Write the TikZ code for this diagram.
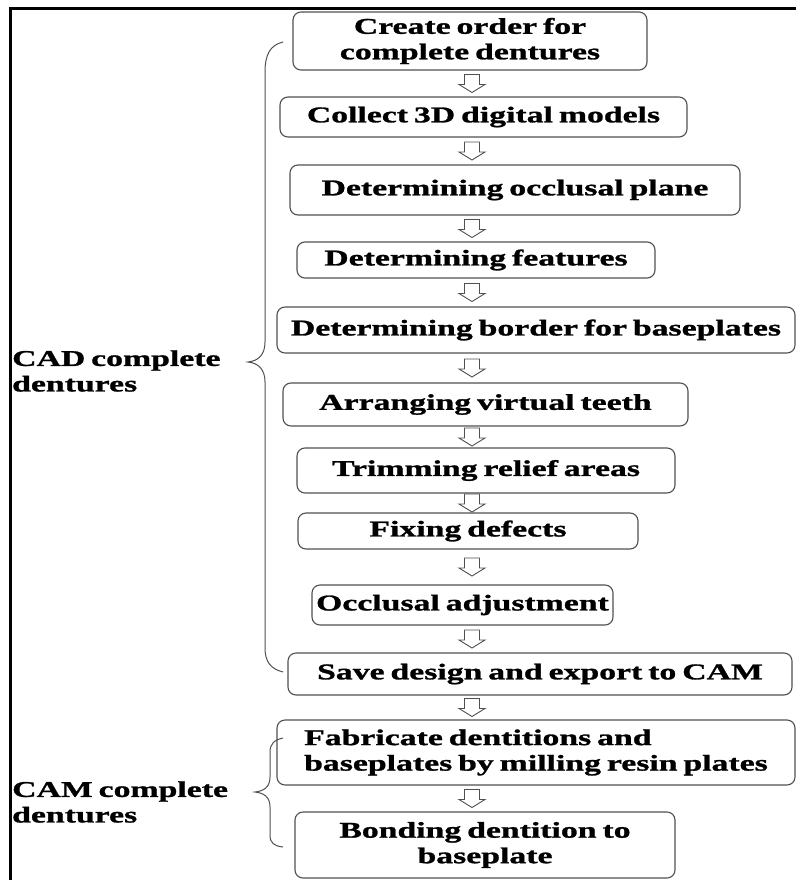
\documentclass[tikz,border=0pt]{standalone}
\usepackage{fontspec}
\setmainfont{Liberation Serif}[FakeStretch=1.5, WordSpace=0.7, FakeBold=1.2]
\usetikzlibrary{calc}
\definecolor{boxgray}{RGB}{80,80,80}
\newcommand\fs{\fontsize{22.5}{25.5}\selectfont\bfseries}
\tikzset{
  stepbox/.style={draw=boxgray, line width=1.1pt, rounded corners=8pt, font=\fs,
    align=center, inner sep=0pt},
  bracepath/.style={draw=boxgray, line width=1pt},
  sidelabel/.style={font=\fs, align=left, inner sep=0pt, anchor=west},
  downarr/.pic={\draw[draw=boxgray, line width=0.9pt, fill=white]
    (-7.5,-9) -- (7.5,-9) -- (7.5,1) -- (13,1) -- (0,9) -- (-13,1) -- (-7.5,1) -- cycle;}
}
\newcommand\flowarr[2]{\path ($(#1.south)!0.5!(#2.north)$) coordinate (m#1);
  \pic at (ax |- m#1) {downarr};}
\begin{document}
\begin{tikzpicture}[x=1pt,y=-1pt]
\useasboundingbox (0,0) rectangle (796,880);
% frame
\draw[line width=3pt] (10.5,880) -- (10.5,8.5) -- (796,8.5);
\coordinate (ax) at (472,0);
% boxes
\node[stepbox, minimum width=354pt, minimum height=58pt] (b1) at (470,41) {Create order for\\complete dentures};
\node[stepbox, minimum width=407pt, minimum height=40pt] (b2) at (483.5,117) {Collect 3D digital models};
\node[stepbox, minimum width=450pt, minimum height=50pt] (b3) at (515,190) {Determining occlusal plane};
\node[stepbox, minimum width=358pt, minimum height=36pt] (b4) at (476,260) {Determining features};
\node[stepbox, minimum width=518pt, minimum height=46pt] (b5) at (536,330) {Determining border for baseplates};
\node[stepbox, minimum width=405pt, minimum height=43pt] (b6) at (485.5,404.5) {Arranging virtual teeth};
\node[stepbox, minimum width=378pt, minimum height=45pt] (b7) at (486,470.5) {Trimming relief areas};
\node[stepbox, minimum width=340pt, minimum height=36pt] (b8) at (468,531) {Fixing defects};
\node[stepbox, minimum width=301pt, minimum height=40pt] (b9) at (462.5,605) {Occlusal adjustment};
\node[stepbox, minimum width=504pt, minimum height=42pt] (b10) at (540,674) {Save design and export to CAM};
\node[stepbox, minimum width=518pt, minimum height=65pt, align=left] (b11) at (536,752.5) {Fabricate dentitions and\\baseplates by milling resin plates};
\node[stepbox, minimum width=380pt, minimum height=66pt] (b12) at (485,845) {Bonding dentition to\\baseplate};
% arrows
\flowarr{b1}{b2}
\flowarr{b2}{b3}
\flowarr{b3}{b4}
\flowarr{b4}{b5}
\flowarr{b5}{b6}
\flowarr{b6}{b7}
\flowarr{b7}{b8}
\flowarr{b8}{b9}
\flowarr{b9}{b10}
\flowarr{b10}{b11}
\flowarr{b11}{b12}
% braces
\draw[bracepath] (283,42) .. controls (270,45) and (265,55) .. (265,72) -- (265,342)
  .. controls (265,355) and (258,361) .. (248,362)
  .. controls (258,363) and (265,369) .. (265,382) -- (265,648)
  .. controls (265,662) and (271,669) .. (283,672);
\draw[bracepath] (283,738) .. controls (274,740) and (270,744) .. (270,752) -- (270,777)
  .. controls (270,787) and (264,791) .. (255,792)
  .. controls (264,793) and (270,797) .. (270,807) -- (270,835)
  .. controls (270,843) and (274,846) .. (283,847);
% labels
\node[sidelabel] (cad) at (12,371) {CAD complete\\dentures};
\node[sidelabel] (cam) at (12,802) {CAM complete\\dentures};
\end{tikzpicture}
\end{document}
